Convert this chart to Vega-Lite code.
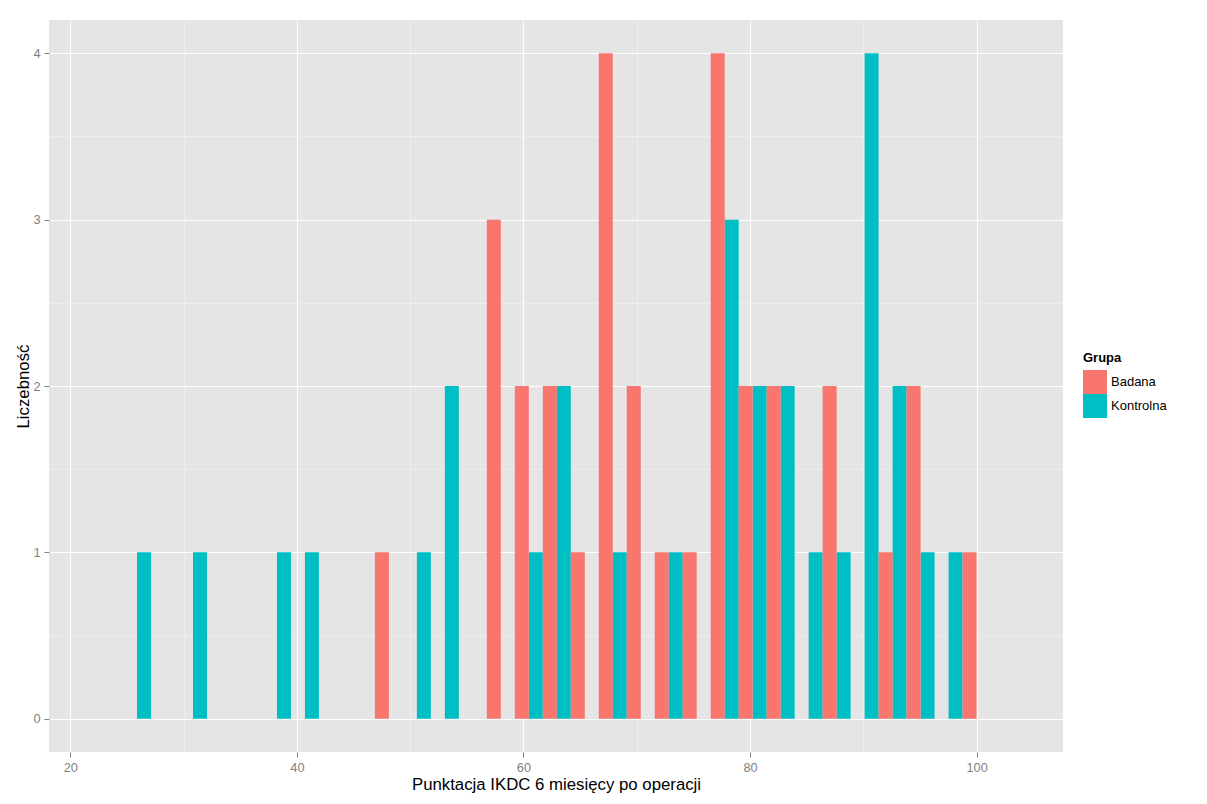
{
  "$schema": "https://vega.github.io/schema/vega-lite/v6.json",
  "autosize": {"type": "none"},
  "width": 1014,
  "height": 732,
  "padding": {"left": 49, "top": 20, "right": 144, "bottom": 52},
  "background": "white",
  "config": {
    "font": "Liberation Sans",
    "view": {"fill": "#E5E5E5", "stroke": null},
    "axis": {
      "domain": false,
      "tickColor": "#7F7F7F",
      "tickSize": 5,
      "labelColor": "#7F7F7F",
      "labelFontSize": 12.8,
      "labelFont": "Liberation Sans",
      "titleFont": "Liberation Sans",
      "titleFontSize": 16.8,
      "titleFontWeight": "normal",
      "titleColor": "black",
      "labelPadding": 4
    }
  },
  "data": {
    "values": [
      {"xmin": 25.89, "xmax": 27.125, "Grupa": "Kontrolna", "count": 1},
      {"xmin": 30.83, "xmax": 32.065, "Grupa": "Kontrolna", "count": 1},
      {"xmin": 38.24, "xmax": 39.475, "Grupa": "Kontrolna", "count": 1},
      {"xmin": 40.71, "xmax": 41.945, "Grupa": "Kontrolna", "count": 1},
      {"xmin": 50.59, "xmax": 51.825, "Grupa": "Kontrolna", "count": 1},
      {"xmin": 53.06, "xmax": 54.295, "Grupa": "Kontrolna", "count": 2},
      {"xmin": 60.47, "xmax": 61.705, "Grupa": "Kontrolna", "count": 1},
      {"xmin": 62.94, "xmax": 64.175, "Grupa": "Kontrolna", "count": 2},
      {"xmin": 67.88, "xmax": 69.115, "Grupa": "Kontrolna", "count": 1},
      {"xmin": 72.82, "xmax": 74.055, "Grupa": "Kontrolna", "count": 1},
      {"xmin": 77.76, "xmax": 78.995, "Grupa": "Kontrolna", "count": 3},
      {"xmin": 80.23, "xmax": 81.465, "Grupa": "Kontrolna", "count": 2},
      {"xmin": 82.7, "xmax": 83.935, "Grupa": "Kontrolna", "count": 2},
      {"xmin": 85.17, "xmax": 86.405, "Grupa": "Kontrolna", "count": 1},
      {"xmin": 87.64, "xmax": 88.875, "Grupa": "Kontrolna", "count": 1},
      {"xmin": 90.11, "xmax": 91.345, "Grupa": "Kontrolna", "count": 4},
      {"xmin": 92.58, "xmax": 93.815, "Grupa": "Kontrolna", "count": 2},
      {"xmin": 95.05, "xmax": 96.285, "Grupa": "Kontrolna", "count": 1},
      {"xmin": 97.52, "xmax": 98.755, "Grupa": "Kontrolna", "count": 1},
      {"xmin": 46.885, "xmax": 48.12, "Grupa": "Badana", "count": 1},
      {"xmin": 56.765, "xmax": 58.0, "Grupa": "Badana", "count": 3},
      {"xmin": 59.235, "xmax": 60.47, "Grupa": "Badana", "count": 2},
      {"xmin": 61.705, "xmax": 62.94, "Grupa": "Badana", "count": 2},
      {"xmin": 64.175, "xmax": 65.41, "Grupa": "Badana", "count": 1},
      {"xmin": 66.645, "xmax": 67.88, "Grupa": "Badana", "count": 4},
      {"xmin": 69.115, "xmax": 70.35, "Grupa": "Badana", "count": 2},
      {"xmin": 71.585, "xmax": 72.82, "Grupa": "Badana", "count": 1},
      {"xmin": 74.055, "xmax": 75.29, "Grupa": "Badana", "count": 1},
      {"xmin": 76.525, "xmax": 77.76, "Grupa": "Badana", "count": 4},
      {"xmin": 78.995, "xmax": 80.23, "Grupa": "Badana", "count": 2},
      {"xmin": 81.465, "xmax": 82.7, "Grupa": "Badana", "count": 2},
      {"xmin": 86.405, "xmax": 87.64, "Grupa": "Badana", "count": 2},
      {"xmin": 91.345, "xmax": 92.58, "Grupa": "Badana", "count": 1},
      {"xmin": 93.815, "xmax": 95.05, "Grupa": "Badana", "count": 2},
      {"xmin": 98.755, "xmax": 99.99, "Grupa": "Badana", "count": 1}
    ]
  },
  "mark": {"type": "bar", "stroke": null, "opacity": 1},
  "encoding": {
    "x": {
      "field": "xmin",
      "type": "quantitative",
      "scale": {"domain": [18.12, 107.62], "nice": false, "zero": false},
      "axis": {
        "title": "Punktacja IKDC 6 miesięcy po operacji",
        "values": [20, 30, 40, 50, 60, 70, 80, 90, 100],
        "labelExpr": "datum.value % 20 === 0 ? datum.label : ''",
        "tickOpacity": {"condition": {"test": "datum.value % 20 !== 0", "value": 0}, "value": 1},
        "gridColor": {"condition": {"test": "datum.value % 20 !== 0", "value": "#F2F2F2"}, "value": "#FFFFFF"},
        "gridWidth": {"condition": {"test": "datum.value % 20 !== 0", "value": 0.6}, "value": 1.1},
        "gridOpacity": 1,
        "titlePadding": 3
      }
    },
    "x2": {"field": "xmax"},
    "y": {
      "field": "count",
      "type": "quantitative",
      "scale": {"domain": [-0.2, 4.2], "nice": false, "zero": false},
      "axis": {
        "title": "Liczebność",
        "values": [0, 0.5, 1, 1.5, 2, 2.5, 3, 3.5, 4],
        "labelExpr": "datum.value % 1 === 0 ? format(datum.value, 'd') : ''",
        "tickOpacity": {"condition": {"test": "datum.value % 1 !== 0", "value": 0}, "value": 1},
        "gridColor": {"condition": {"test": "datum.value % 1 !== 0", "value": "#F2F2F2"}, "value": "#FFFFFF"},
        "gridWidth": {"condition": {"test": "datum.value % 1 !== 0", "value": 0.6}, "value": 1.1},
        "gridOpacity": 1,
        "titlePadding": 0
      }
    },
    "y2": {"datum": 0},
    "color": {
      "field": "Grupa",
      "type": "nominal",
      "scale": {"domain": ["Badana", "Kontrolna"], "range": ["#F8766D", "#00BFC4"]},
      "legend": {
        "title": "Grupa",
        "orient": "none",
        "legendX": 1034,
        "legendY": 332,
        "padding": 0,
        "titleFontSize": 13,
        "titleFontWeight": "bold",
        "titleColor": "black",
        "titlePadding": 5,
        "labelFontSize": 13,
        "labelColor": "black",
        "labelOffset": 4,
        "symbolType": "square",
        "symbolSize": 576,
        "symbolStrokeWidth": 0,
        "symbolOpacity": 1,
        "rowPadding": 0
      }
    }
  }
}
